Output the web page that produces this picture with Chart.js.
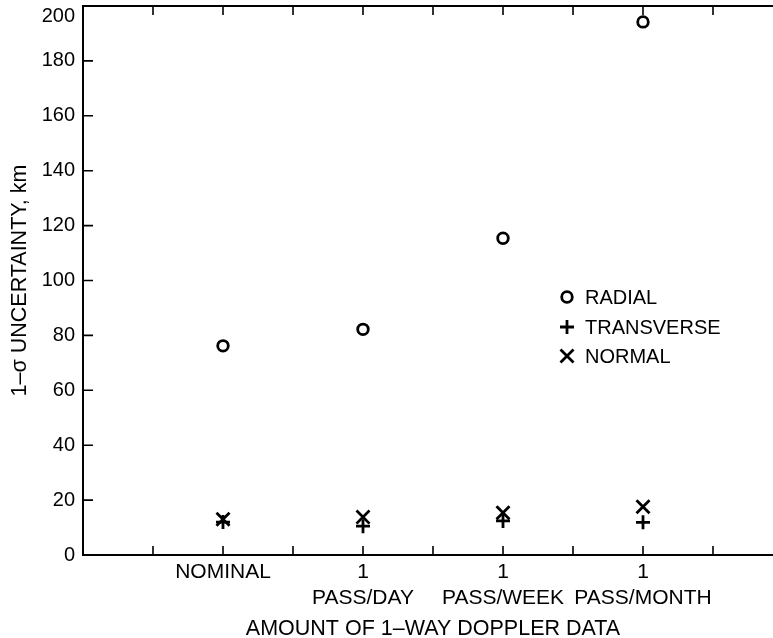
<!DOCTYPE html>
<html>
<head>
<meta charset="utf-8">
<script src="https://cdn.jsdelivr.net/npm/chart.js@4.4.0/dist/chart.umd.min.js"></script>
<style>
  html, body { margin: 0; padding: 0; background: #fff; overflow: hidden; }
  #wrap { width: 773px; height: 638px; overflow: hidden; }
</style>
</head>
<body>
<div id="wrap"><canvas id="chart" width="800" height="638"></canvas></div>
<script>
// data
const categories = [["NOMINAL"], ["1", "PASS/DAY"], ["1", "PASS/WEEK"], ["1", "PASS/MONTH"]];
const categoryPos = [1, 2, 3, 4];
const radial = [76.2, 82.2, 115.4, 194.2];
const transverse = [12, 10.5, 12.4, 11.9];
const normal = [13, 13.8, 15.4, 17.6];
const seriesNames = ["RADIAL", "TRANSVERSE", "NORMAL"];

Chart.defaults.font.family = "'Liberation Sans', Arial, sans-serif";
Chart.defaults.color = '#000';

function points(values) {
    return categoryPos.map((x, i) => ({ x: x, y: values[i] }));
}

// same marker shapes for the inline legend
function drawMarker(ctx, style, x, y) {
    ctx.beginPath();
    if (style === 'circle') {
        ctx.arc(x, y, 5.3, 0, Math.PI * 2);
    } else if (style === 'cross') {
        ctx.moveTo(x - 7, y); ctx.lineTo(x + 7, y);
        ctx.moveTo(x, y - 7); ctx.lineTo(x, y + 7);
    } else {
        ctx.moveTo(x - 6.5, y - 6.5); ctx.lineTo(x + 6.5, y + 6.5);
        ctx.moveTo(x - 6.5, y + 6.5); ctx.lineTo(x + 6.5, y - 6.5);
    }
    ctx.stroke();
}

// frame on top + tick marks pointing into the plot
const innerTicks = {
    id: 'innerTicks',
    afterDraw(chart) {
        const { ctx, chartArea: a, scales: { x, y } } = chart;
        ctx.save();
        ctx.strokeStyle = '#000';
        ctx.lineWidth = 2;
        ctx.beginPath();
        ctx.moveTo(a.left, a.top);
        ctx.lineTo(a.right, a.top);
        ctx.stroke();

        ctx.lineWidth = 1.6;
        ctx.beginPath();
        x.ticks.forEach((t) => {
            if (t.value <= x.min || t.value >= x.max) return;
            const px = x.getPixelForValue(t.value);
            ctx.moveTo(px, a.bottom); ctx.lineTo(px, a.bottom - 9);
            ctx.moveTo(px, a.top); ctx.lineTo(px, a.top + 9);
        });
        y.ticks.forEach((t) => {
            if (t.value <= y.min || t.value >= y.max) return;
            const py = y.getPixelForValue(t.value);
            ctx.moveTo(a.left, py); ctx.lineTo(a.left + 10, py);
        });
        ctx.stroke();
        ctx.restore();
    }
};

const inlineLegend = {
    id: 'inlineLegend',
    afterDraw(chart) {
        const ctx = chart.ctx;
        const rows = [297, 327, 356];
        ctx.save();
        ctx.strokeStyle = '#000';
        ctx.fillStyle = '#000';
        ctx.lineWidth = 2.8;
        ctx.font = "20px 'Liberation Sans', Arial, sans-serif";
        ctx.textBaseline = 'middle';
        chart.data.datasets.forEach((ds, i) => {
            drawMarker(ctx, ds.pointStyle, 567, rows[i]);
            ctx.fillText(ds.label, 585, rows[i] + 1);
        });
        ctx.restore();
    }
};

new Chart(document.getElementById('chart'), {
    type: 'scatter',
    data: {
        datasets: [
            {
                label: seriesNames[0], data: points(radial),
                pointStyle: 'circle', pointRadius: 5.3, pointBorderWidth: 2.8,
                borderColor: '#000', backgroundColor: 'rgba(0,0,0,0)'
            },
            {
                label: seriesNames[1], data: points(transverse),
                pointStyle: 'cross', pointRadius: 7, pointBorderWidth: 2.8,
                borderColor: '#000', backgroundColor: '#000'
            },
            {
                label: seriesNames[2], data: points(normal),
                pointStyle: 'crossRot', pointRadius: 9.2, pointBorderWidth: 2.8,
                borderColor: '#000', backgroundColor: '#000'
            }
        ]
    },
    options: {
        responsive: false,
        animation: false,
        layout: { autoPadding: false, padding: { top: 6, right: 17, left: 0, bottom: 0 } },
        plugins: {
            legend: { display: false },
            tooltip: { enabled: false }
        },
        scales: {
            x: {
                type: 'linear',
                min: 0,
                max: 5,
                grid: { display: false, drawTicks: false },
                border: { display: true, width: 2, color: '#000' },
                ticks: {
                    stepSize: 0.5,
                    autoSkip: false,
                    maxRotation: 0,
                    padding: 5,
                    font: { size: 21, lineHeight: 1.2 },
                    callback: (v) => {
                        const i = categoryPos.indexOf(v);
                        return i >= 0 ? categories[i] : '';
                    }
                },
                title: {
                    display: true,
                    text: 'AMOUNT OF 1\u2013WAY DOPPLER DATA',
                    font: { size: 21.5, lineHeight: 0.8 },
                    padding: 0
                },
                afterFit: (s) => {
                    s.height = 83;
                    s.paddingLeft = 0;
                    s.paddingRight = 0;
                }
            },
            y: {
                min: 0,
                max: 200,
                grid: { display: false, drawTicks: false },
                border: { display: true, width: 2, color: '#000' },
                ticks: {
                    stepSize: 20,
                    padding: 8,
                    font: { size: 20, lineHeight: 1 },
                    // top label sits just below the frame, as in the original
                    callback: (v) => (v === 200 ? ['', String(v)] : String(v))
                },
                title: {
                    display: true,
                    text: '1\u2013\u03c3 UNCERTAINTY, km',
                    font: { size: 21.5, lineHeight: 1.2 },
                    padding: { top: 7, bottom: 0 }
                },
                afterFit: (s) => {
                    s.width = 83;
                    s.paddingTop = 0;
                    s.paddingBottom = 0;
                }
            }
        }
    },
    plugins: [innerTicks, inlineLegend]
});
</script>
</body>
</html>
